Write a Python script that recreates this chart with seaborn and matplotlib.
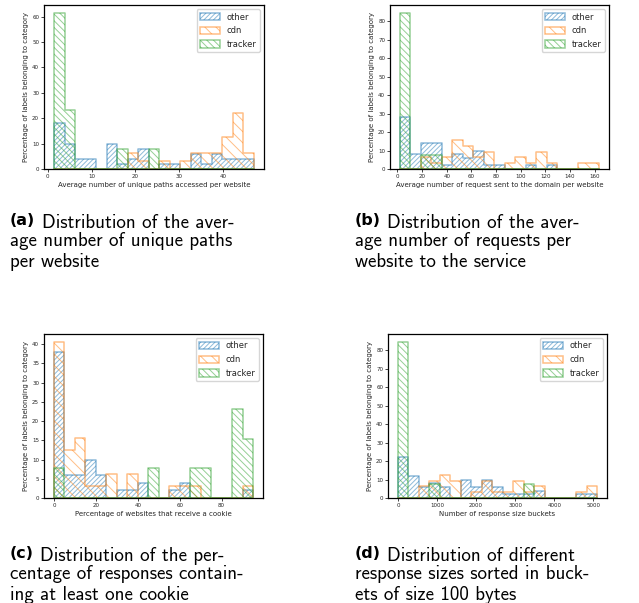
import numpy as np
import matplotlib
matplotlib.use('Agg')
import matplotlib.pyplot as plt
import matplotlib.patches as mpatches
from matplotlib.colors import to_rgba
import seaborn as sns

# ── Datos (porcentaje por bin) ───────────────────────────────────
CATS = ['other', 'cdn', 'tracker']

# (a) caminos únicos por web: 19 bins entre 1.4 y 47.1
A_RANGE = (1.4, 47.1)
A_OTHER   = [18, 10, 4, 4, 0, 10, 2, 4, 8, 0, 2, 2, 0, 6, 2, 6, 4, 4, 4]
A_CDN     = [0, 0, 0, 0, 0, 0, 0, 6.25, 3.1, 0, 3.1, 0, 3.1, 6.25, 6.25, 6.25, 12.5, 21.9, 6.25]
A_TRACKER = [61.5, 23.1, 0, 0, 0, 0, 7.7, 0, 0, 7.7, 0, 0, 0, 0, 0, 0, 0, 0, 0]

# (b) peticiones por web: 19 bins entre 2 y 163.5
B_RANGE = (2.0, 163.5)
B_OTHER   = [28, 8, 14, 14, 2, 8, 6, 10, 2, 2, 0, 0, 2, 0, 2, 0, 0, 0, 0]
B_CDN     = [0, 0, 6.25, 3.1, 6.25, 15.6, 12.5, 6.25, 9.4, 0, 3.1, 6.25, 3.1, 9.4, 3.1, 0, 0, 3.1, 3.1]
B_TRACKER = [84.6, 0, 7.7, 7.7, 0, 0, 0, 0, 0, 0, 0, 0, 0, 0, 0, 0, 0, 0, 0]

# (c) porcentaje con cookie: 19 bins entre 0 y 95
C_RANGE = (0.0, 95.0)
C_OTHER   = [38, 6, 6, 10, 6, 0, 2, 2, 4, 0, 0, 2, 4, 0, 0, 0, 0, 0, 2]
C_CDN     = [40.6, 12.5, 15.6, 3.1, 3.1, 6.25, 0, 6.25, 0, 0, 0, 3.1, 3.1, 3.1, 0, 0, 0, 0, 3.1]
C_TRACKER = [7.7, 0, 0, 0, 0, 0, 0, 0, 0, 7.7, 0, 0, 0, 7.7, 7.7, 0, 0, 23.1, 15.4]

# (d) buckets de tamaño de respuesta: 19 bins entre 0 y 5092
D_RANGE = (0.0, 5092.0)
D_OTHER   = [22, 12, 6, 8, 6, 0, 10, 6, 10, 6, 2, 2, 2, 4, 0, 0, 0, 2, 2]
D_CDN     = [0, 0, 6.25, 9.4, 12.5, 9.4, 0, 3.1, 9.4, 3.1, 3.1, 9.4, 3.1, 6.25, 0, 0, 0, 3.1, 6.25]
D_TRACKER = [84.6, 0, 0, 7.7, 0, 0, 0, 0, 0, 0, 0, 0, 7.7, 0, 0, 0, 0, 0, 0]

XLABELS = [
    'Average number of unique paths accessed per website',
    'Average number of request sent to the domain per website',
    'Percentage of websites that receive a cookie',
    'Number of response size buckets',
]
YLABEL = 'Percentage of labels belonging to category'

CAPTIONS = [
    ('(a)', ['Distribution of the aver-', 'age number of unique paths', 'per website']),
    ('(b)', ['Distribution of the aver-', 'age number of requests per', 'website to the service']),
    ('(c)', ['Distribution of the per-', 'centage of responses contain-', 'ing at least one cookie']),
    ('(d)', ['Distribution of different', 'response sizes sorted in buck-', 'ets of size 100 bytes']),
]

PANELS = [
    (A_RANGE, [A_OTHER, A_CDN, A_TRACKER]),
    (B_RANGE, [B_OTHER, B_CDN, B_TRACKER]),
    (C_RANGE, [C_OTHER, C_CDN, C_TRACKER]),
    (D_RANGE, [D_OTHER, D_CDN, D_TRACKER]),
]

# ── Estilo ────────────────────────────────────────────────────────
sns.set_style('ticks')
plt.rcParams['hatch.linewidth'] = 0.7
colors = sns.color_palette('tab10')[:3]
hatches = ['/' * 7, '\\' * 3, '\\' * 5]

W, H = 639, 603
fig = plt.figure(figsize=(W / 100, H / 100), dpi=100)

# posiciones de los ejes en píxeles (izq, arriba, ancho, alto)
AX_PX = [(44, 5, 220, 164), (390, 5, 219, 164),
         (44, 334, 219, 164), (388, 334, 219, 164)]

for k, ((lo, hi), series) in enumerate(PANELS):
    l, t, w, h = AX_PX[k]
    ax = fig.add_axes([l / W, 1 - (t + h) / H, w / W, h / H])
    nb = len(series[0])
    edges = np.linspace(lo, hi, nb + 1)
    centers = list((edges[:-1] + edges[1:]) / 2)

    for vals, c, hatch in zip(series, colors, hatches):
        sns.histplot(x=centers, weights=vals, bins=nb, binrange=(lo, hi),
                     element='step', fill=True, stat='count', ax=ax, color=c,
                     facecolor='none', edgecolor=to_rgba(c, 0.5),
                     hatch=hatch, linewidth=1.1)

    ax.set_xlabel(XLABELS[k], fontsize=5, labelpad=2)
    ax.set_ylabel(YLABEL, fontsize=5, labelpad=2)
    ax.tick_params(labelsize=4, length=2, width=0.6, pad=1.5)
    for sp in ax.spines.values():
        sp.set_linewidth(0.9)
        sp.set_color('black')

    handles = [mpatches.Patch(facecolor='none', edgecolor=to_rgba(c, 0.5),
                              hatch=hh, label=lab, linewidth=1.1)
               for c, hh, lab in zip(colors, hatches, CATS)]
    ax.legend(handles=handles, loc='upper right', fontsize=6,
              handlelength=2.4, handleheight=1.0, labelspacing=0.55,
              frameon=True)

    # pie de figura estilo LaTeX
    cx = 10 if k % 2 == 0 else 355
    cy = 225 if k < 2 else 558
    tag, lines = CAPTIONS[k]
    tt = fig.text(cx / W, 1 - cy / H, tag, fontsize=11.5, fontweight='bold',
                  family='DejaVu Sans', va='baseline', color='black')
    ax.annotate(lines[0], xy=(1, 0), xycoords=tt, xytext=(4.5, 0),
                textcoords='offset points', fontsize=13.7, family='cmss10',
                va='baseline', color='black', annotation_clip=False)
    for j, line in enumerate(lines[1:], start=1):
        fig.text(cx / W, 1 - (cy + 20.8 * j) / H, line, fontsize=13.7,
                 family='cmss10', va='baseline', color='black')

plt.savefig('out.png', dpi=100)
